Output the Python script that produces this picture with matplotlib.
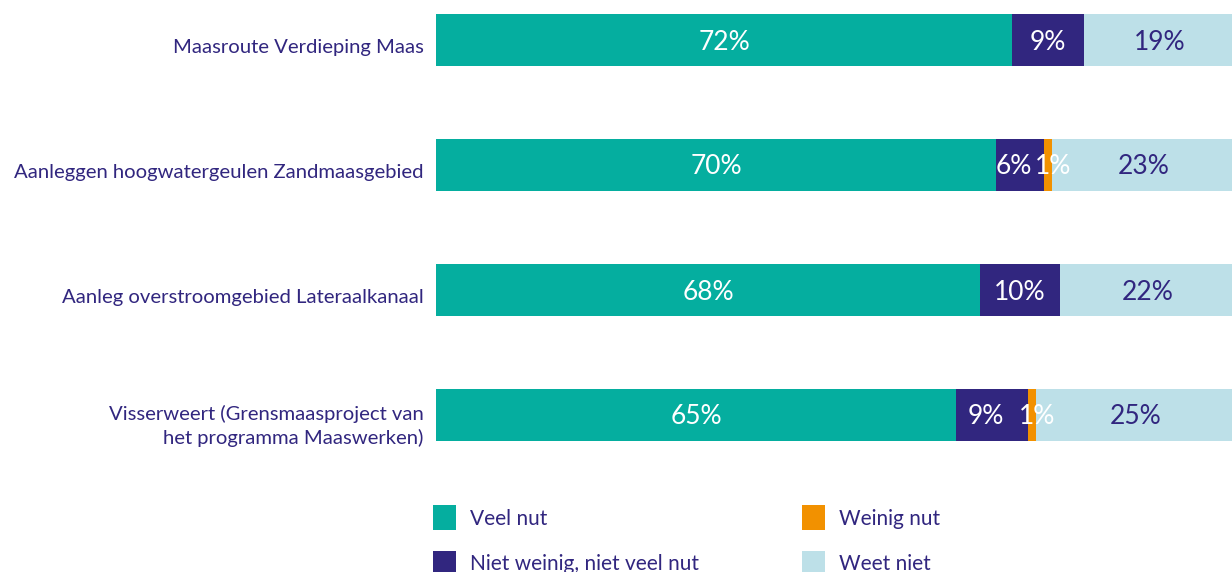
import numpy as np
import matplotlib.pyplot as plt
from matplotlib.transforms import ScaledTranslation

plt.rcParams['font.family'] = ['Lato', 'DejaVu Sans']

# data
categories = [
    "Maasroute Verdieping Maas",
    "Aanleggen hoogwatergeulen Zandmaasgebied",
    "Aanleg overstroomgebied Lateraalkanaal",
    "Visserweert (Grensmaasproject van\nhet programma Maaswerken)",
]
series = ["Veel nut", "Niet weinig, niet veel nut", "Weinig nut", "Weet niet"]
veel_nut = [72, 70, 68, 65]
niet_weinig = [9, 6, 10, 9]
weinig_nut = [0, 1, 0, 1]
weet_niet = [19, 23, 22, 25]

colors = ["#05ae9f", "#31267f", "#f29100", "#bde0e8"]
text_colors = ["white", "white", "white", "#31267f"]
navy = "#31267f"

fig = plt.figure(figsize=(12.32, 5.72), dpi=100)
# axes runs a little past the right edge, like the original crop
ax = fig.add_axes([436 / 1232, 1 - 477.5 / 572, 800 / 1232, 500 / 572])

all_vals = np.array([veel_nut, niet_weinig, weinig_nut, weet_niet], dtype=float)
y = np.arange(len(categories))
left = np.zeros(len(categories))
down = ScaledTranslation(0, -2 / 100, fig.dpi_scale_trans)
handles = []
for k, (name, col, tcol) in enumerate(zip(series, colors, text_colors)):
    vals = all_vals[k]
    bars = ax.barh(y, vals, left=left, height=0.42, color=col, label=name)
    handles.append(bars)
    for i, (yi, l, v) in enumerate(zip(y, left, vals)):
        if v <= 0:
            continue
        x = l + v / 2
        # spread labels apart around a thin segment
        if v < 2:
            x += 0.6
        elif k + 1 < len(series) and 0 < all_vals[k + 1][i] < 2:
            x -= 0.8
        ax.text(x, yi, f"{int(v)}%", ha="center", va="center",
                color=tcol, fontsize=19, transform=ax.transData + down)
    left += vals

ax.set_xlim(0, 100)
ax.set_ylim(3.5, -0.5)
# category labels sit a bit lower than the bar centre
ax.set_yticks(y + 0.05)
ax.set_yticklabels(categories, fontsize=14.6, color=navy)
for lab in ax.get_yticklabels():
    lab.set_linespacing(1.4)
ax.tick_params(axis="y", length=0, pad=9)
ax.set_xticks([])
for s in ax.spines.values():
    s.set_visible(False)

fig.legend(handles=handles, labels=series, ncol=2, frameon=False,
           loc="upper left", bbox_to_anchor=(425 / 1232, 1 - 497 / 572),
           fontsize=15, labelcolor=navy, handlelength=1.08, handleheight=1.44,
           handletextpad=0.68, labelspacing=1.0, columnspacing=4.96,
           borderaxespad=0)

fig.savefig("out.png", dpi=100)
